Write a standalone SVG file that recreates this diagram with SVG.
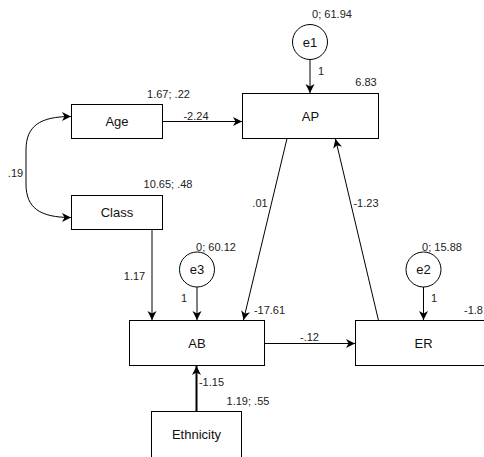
<svg xmlns="http://www.w3.org/2000/svg" width="484" height="457" viewBox="0 0 484 457">
<style>
.box{fill:#fff;stroke:#000;stroke-width:1}
.circ{fill:#fff;stroke:#000;stroke-width:1}
.lbl{font-family:"Liberation Sans",Arial,sans-serif;font-size:13px;fill:#111;text-anchor:middle}
.sm{font-family:"Liberation Sans",Arial,sans-serif;font-size:11px;fill:#222;text-anchor:middle}
.edge{fill:none;stroke:#000;stroke-width:1}
</style>
<defs>
<marker id="arr" markerUnits="userSpaceOnUse" markerWidth="10" markerHeight="10" refX="9" refY="4.5" orient="auto">
<path d="M0,0 L9,4.5 L0,9 L2.5,4.5 Z" fill="#000"/>
</marker>
<marker id="arrs" markerUnits="userSpaceOnUse" markerWidth="10" markerHeight="10" refX="9" refY="4.5" orient="auto-start-reverse">
<path d="M0,0 L9,4.5 L0,9 L2.5,4.5 Z" fill="#000"/>
</marker>
</defs>
<rect width="484" height="457" fill="#fff"/>
<g id="connectors">
<path class="edge" d="M71,116.5 C40,116.5 26,126 26,150 L26,184 C26,208 40,217.5 71,217.5" marker-start="url(#arrs)" marker-end="url(#arrs)"/>
<path class="edge" d="M162.5,121.5 L242,121.5" marker-end="url(#arr)"/>
<path class="edge" d="M310,59.5 L310,93" marker-end="url(#arr)"/>
<path class="edge" d="M152,229.5 L152,320" marker-end="url(#arr)"/>
<path class="edge" d="M197,287 L197,320" marker-end="url(#arr)"/>
<path class="edge" d="M423.5,287 L423.5,320" marker-end="url(#arr)"/>
<path class="edge" d="M287,138.5 L243.5,320" marker-end="url(#arr)"/>
<path class="edge" d="M378.5,320.5 L335.5,139" marker-end="url(#arr)"/>
<path class="edge" d="M264.5,343.5 L355,343.5" marker-end="url(#arr)"/>
<path class="edge" style="stroke-width:2" d="M196.5,411.5 L196.5,366" marker-end="url(#arr)"/>
<text class="sm" x="15.5" y="177">.19</text>
<text class="sm" x="196" y="120">-2.24</text>
<text class="sm" x="321" y="75">1</text>
<text class="sm" x="134.5" y="280">1.17</text>
<text class="sm" x="184" y="302">1</text>
<text class="sm" x="434" y="302">1</text>
<text class="sm" x="260" y="207">.01</text>
<text class="sm" x="366" y="207">-1.23</text>
<text class="sm" x="309.5" y="341">-.12</text>
<text class="sm" x="211.5" y="386">-1.15</text>
</g>
<g id="age">
<rect class="box" x="71.5" y="104.5" width="91" height="34"/>
<text class="lbl" x="117" y="126">Age</text>
<text class="sm" x="168.5" y="97.5">1.67; .22</text>
</g>
<g id="class">
<rect class="box" x="71.5" y="195.5" width="91" height="34"/>
<text class="lbl" x="117" y="217">Class</text>
<text class="sm" x="168" y="188">10.65; .48</text>
</g>
<g id="ap">
<rect class="box" x="242.5" y="93.5" width="136" height="45"/>
<text class="lbl" x="310.5" y="120.5">AP</text>
<text class="sm" x="366" y="86">6.83</text>
</g>
<g id="e1">
<circle class="circ" cx="310" cy="42" r="17.5"/>
<text class="lbl" x="310" y="46.5">e1</text>
<text class="sm" x="332" y="18">0; 61.94</text>
</g>
<g id="ab">
<rect class="box" x="129.5" y="320.5" width="135" height="45"/>
<text class="lbl" x="197" y="347.5">AB</text>
<text class="sm" x="269.5" y="313.5">-17.61</text>
</g>
<g id="e3">
<circle class="circ" cx="197" cy="269.5" r="17.5"/>
<text class="lbl" x="197" y="274">e3</text>
<text class="sm" x="216" y="251">0; 60.12</text>
</g>
<g id="er">
<rect class="box" x="355.5" y="320.5" width="136" height="45"/>
<text class="lbl" x="423.5" y="347.5">ER</text>
<text class="sm" x="483" y="313.5" style="text-anchor:end">-1.8</text>
</g>
<g id="e2">
<circle class="circ" cx="423.5" cy="269.5" r="17.5"/>
<text class="lbl" x="423.5" y="274">e2</text>
<text class="sm" x="442" y="251">0; 15.88</text>
</g>
<g id="ethnicity">
<rect class="box" x="151.5" y="411.5" width="90" height="60"/>
<text class="lbl" x="196.5" y="438.5">Ethnicity</text>
<text class="sm" x="248" y="405">1.19; .55</text>
</g>
</svg>
